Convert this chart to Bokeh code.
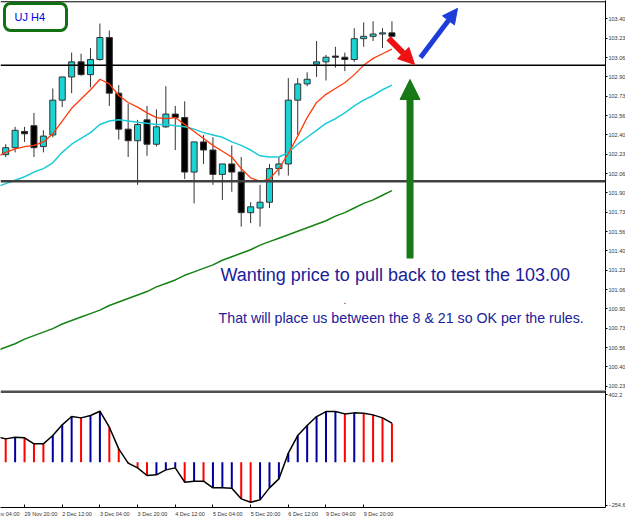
from bokeh.plotting import figure
from bokeh.layouts import column
from bokeh.models import (Range1d, FixedTicker, Span, Label, Arrow, NormalHead,
                          BoxAnnotation, ColumnDataSource)
from bokeh.embed import file_html
from bokeh.resources import INLINE

# ---------------- data ----------------
bar_index = list(range(42))
opens = [102.23, 102.29, 102.43, 102.48, 102.30, 102.40, 102.70, 102.90, 103.03, 102.92,
         103.05, 103.24, 102.76, 102.45, 102.35, 102.53, 102.32, 102.47, 102.58, 102.55,
         102.08, 102.34, 102.27, 102.06, 102.15, 102.08, 101.73, 101.77, 101.82, 102.11,
         102.15, 102.70, 102.84, 103.01, 103.03, 103.08, 103.07, 103.05, 103.23, 103.25,
         103.27, 103.28]
highs = [102.32, 102.47, 102.47, 102.59, 102.44, 102.80, 102.90, 103.11, 103.10, 103.15,
         103.36, 103.30, 102.83, 102.67, 102.53, 102.65, 102.62, 102.82, 102.65, 102.69,
         102.34, 102.40, 102.38, 102.15, 102.31, 102.21, 101.82, 101.97, 102.15, 102.21,
         102.89, 102.89, 102.94, 103.21, 103.09, 103.16, 103.11, 103.32, 103.37, 103.38,
         103.32, 103.38]
lows = [102.21, 102.25, 102.34, 102.21, 102.25, 102.38, 102.64, 102.76, 102.91, 102.81,
        103.04, 102.65, 102.36, 102.21, 101.97, 102.22, 102.30, 102.46, 102.27, 102.02,
        101.81, 102.15, 101.97, 101.84, 101.91, 101.61, 101.64, 101.61, 101.77, 102.05,
        102.05, 102.40, 102.82, 102.90, 102.87, 102.98, 102.95, 103.03, 103.16, 103.21,
        103.15, 103.24]
closes = [102.29, 102.44, 102.41, 102.29, 102.39, 102.70, 102.90, 103.03, 102.92, 103.05,
          103.24, 102.76, 102.45, 102.35, 102.49, 102.32, 102.47, 102.58, 102.55, 102.08,
          102.34, 102.27, 102.06, 102.15, 102.08, 101.73, 101.78, 101.82, 102.11, 102.15,
          102.70, 102.84, 102.88, 103.03, 103.07, 103.07, 103.05, 103.23, 103.25, 103.27,
          103.28, 103.25]

ma_index = list(range(-1, 42))
ema_fast = [102.21, 102.25, 102.28, 102.30, 102.31, 102.34, 102.41, 102.52, 102.63, 102.71, 102.79,
            102.88, 102.84, 102.74, 102.68, 102.64, 102.59, 102.55, 102.54, 102.55, 102.49,
            102.43, 102.37, 102.31, 102.26, 102.21, 102.11, 102.03, 102.00, 102.02, 102.11,
            102.24, 102.39, 102.55, 102.68, 102.75, 102.80, 102.85, 102.92, 103.00, 103.06,
            103.10, 103.14]
ema_slow = [101.95, 101.98, 102.01, 102.04, 102.08, 102.11, 102.16, 102.25, 102.32, 102.37, 102.42,
            102.49, 102.52, 102.53, 102.52, 102.51, 102.50, 102.49, 102.49, 102.48, 102.47,
            102.45, 102.42, 102.40, 102.38, 102.34, 102.31, 102.27, 102.22, 102.21, 102.21,
            102.25, 102.32, 102.38, 102.44, 102.50, 102.54, 102.59, 102.65, 102.70, 102.74,
            102.79, 102.83]
sma_long = [100.54, 100.57, 100.60, 100.64, 100.67, 100.70, 100.73, 100.77, 100.80, 100.83, 100.86,
            100.89, 100.93, 100.96, 100.99, 101.02, 101.05, 101.09, 101.12, 101.15, 101.19,
            101.22, 101.25, 101.28, 101.32, 101.35, 101.38, 101.41, 101.45, 101.48, 101.51,
            101.54, 101.57, 101.60, 101.63, 101.66, 101.70, 101.73, 101.77, 101.81, 101.84,
            101.88, 101.92]

osc_values = [152.5, 138.7, 148.6, 144.6, 109.0, 109.0, 158.5, 221.9, 271.4, 263.5, 277.3,
              303.1, 208.0, 79.2, -5.9, -33.7, -79.2, -75.3, -45.6, -33.7, -118.9,
              -112.9, -112.9, -152.5, -152.5, -154.5, -217.9, -237.7, -223.9, -152.5, -99.1,
              53.5, 158.5, 217.9, 271.4, 301.1, 301.1, 287.2, 293.2, 291.2, 281.3,
              263.5, 231.8]
osc_dir = ["u", "d", "u", "d", "d", "d", "u", "u", "u", "d", "u",
           "u", "d", "d", "d", "d", "d", "u", "u", "u", "d",
           "u", "d", "u", "u", "u", "d", "d", "u", "u", "u",
           "u", "u", "u", "u", "u", "u", "d", "u", "d", "d",
           "d", "d"]

price_ticks = [103.40, 103.233, 103.067, 102.90, 102.733, 102.567, 102.40, 102.233, 102.067,
               101.90, 101.733, 101.567, 101.40, 101.233, 101.067, 100.90, 100.733, 100.567,
               100.40, 100.233]
price_labels = ["103.40", "103.23", "103.06", "102.90", "102.73", "102.56", "102.40", "102.23",
                "102.06", "101.90", "101.73", "101.56", "101.40", "101.23", "101.06", "100.90",
                "100.73", "100.56", "100.40", "100.23"]
time_ticks = [-2, 2, 6, 10, 14, 18, 22, 26, 30, 34, 38]
time_labels = ["29 Nov 04:00", "29 Nov 20:00", "2 Dec 12:00", "3 Dec 04:00", "3 Dec 20:00",
               "4 Dec 12:00", "5 Dec 04:00", "5 Dec 20:00", "6 Dec 12:00", "9 Dec 04:00",
               "9 Dec 20:00"]
osc_ticks = [402.2, -254.6]
level_lines = [103.00, 102.00]

# ---------------- styles ----------------
BULL = "#1cd3d3"
BEAR = "#000000"
FONT = "Liberation Sans"
AX_FS = "5.5px"


def clean(p):
    p.xgrid.visible = False
    p.ygrid.visible = False
    p.outline_line_color = None
    p.background_fill_color = "white"
    p.border_fill_color = "white"


# ---------------- main price panel ----------------
p1 = figure(frame_width=605, frame_height=390,
            x_range=Range1d(-0.552, 63.67), y_range=Range1d(100.197, 103.559),
            x_axis_location=None, y_axis_location="right",
            output_backend="svg", toolbar_location=None,
            min_border_left=0, min_border_top=0, min_border_bottom=0, min_border_right=20)
clean(p1)

ya = p1.yaxis[0]
ya.ticker = FixedTicker(ticks=price_ticks)
ya.major_label_overrides = {t: s for t, s in zip(price_ticks, price_labels)}
ya.major_label_text_font_size = AX_FS
ya.major_label_text_font = FONT
ya.major_label_text_color = "#333333"
ya.major_tick_out = 2
ya.major_tick_in = 0
ya.minor_tick_line_color = None
ya.major_label_standoff = 1
ya.axis_line_color = "black"

# horizontal levels and top border
p1.add_layout(Span(location=level_lines[0], dimension="width", line_color="black", line_width=1.5))
p1.add_layout(Span(location=level_lines[1], dimension="width", line_color="#404040", line_width=2.5))
p1.add_layout(Span(location=103.548, dimension="width", line_color="black", line_width=1))

src = ColumnDataSource(dict(
    x=bar_index, o=opens, h=highs, l=lows, c=closes,
    top=[max(a, b) for a, b in zip(opens, closes)],
    bottom=[min(a, b) for a, b in zip(opens, closes)],
    fill=[BULL if c >= o else BEAR for o, c in zip(opens, closes)],
))
p1.segment(x0="x", y0="l", x1="x", y1="h", line_color="#333333", line_width=1, source=src)
p1.vbar(x="x", width=0.64, top="top", bottom="bottom", fill_color="fill",
        line_color="#333333", line_width=1, source=src)

p1.line(ma_index, sma_long, line_color="#168216", line_width=1.5)
p1.line(ma_index, ema_slow, line_color="#1ccbd8", line_width=1.5)
p1.line(ma_index, ema_fast, line_color="#ff3a0a", line_width=1.3)

# axis price boxes
for val, txt in [(103.00, "103.00"), (102.00, "102.00"), (closes[-1], "%.2f" % closes[-1])]:
    p1.add_layout(Label(x=63.78, y=val, text=txt, text_font=FONT, text_font_size=AX_FS,
                        text_color="white", background_fill_color="black",
                        text_baseline="middle", text_align="left"))

# "UJ H4" badge
p1.add_layout(BoxAnnotation(left=-0.127, right=6.455, top=103.534, bottom=103.301,
                            fill_color="white", fill_alpha=1.0, line_color="#127012",
                            line_alpha=1.0, line_width=3, border_radius=6))
p1.add_layout(Label(x=0.93, y=103.42, text="UJ H4", text_font=FONT, text_font_size="11px",
                    text_color="#0000dd", text_baseline="middle", text_align="left"))

# arrows
p1.add_layout(Arrow(end=NormalHead(size=16, fill_color="#ee1111", line_color="#ee1111"),
                    x_start=40.64, y_start=103.232, x_end=43.40, y_end=103.008,
                    line_color="#ee1111", line_width=6))
p1.add_layout(Arrow(end=NormalHead(size=15, fill_color="#1e3cd8", line_color="#1e3cd8"),
                    x_start=44.03, y_start=103.068, x_end=47.96, y_end=103.491,
                    line_color="#1e3cd8", line_width=5))
p1.add_layout(Arrow(end=NormalHead(size=20, fill_color="#167a16", line_color="#167a16"),
                    x_start=42.92, y_start=101.335, x_end=42.92, y_end=102.878,
                    line_color="#167a16", line_width=7))

# annotation texts
TXT = "#20209a"
p1.add_layout(Label(x=22.8, y=101.189, text="Wanting price to pull back to test the 103.00",
                    text_font=FONT, text_font_size="18px", text_color=TXT,
                    text_baseline="middle", text_align="left"))
p1.add_layout(Label(x=35.86, y=100.973, text=".", text_font=FONT, text_font_size="10px",
                    text_color=TXT, text_baseline="middle", text_align="left"))
p1.add_layout(Label(x=22.6, y=100.818, text="That will place us between the 8 & 21 so OK per the rules.",
                    text_font=FONT, text_font_size="14.2px", text_color=TXT,
                    text_baseline="middle", text_align="left"))

# ---------------- oscillator panel ----------------
p2 = figure(frame_width=605, frame_height=117,
            x_range=p1.x_range, y_range=Range1d(-269.3, 426.2),
            y_axis_location="right", output_backend="svg", toolbar_location=None,
            min_border_left=0, min_border_top=0, min_border_right=20, min_border_bottom=0)
clean(p2)

y2 = p2.yaxis[0]
y2.ticker = FixedTicker(ticks=osc_ticks)
y2.major_label_text_font_size = AX_FS
y2.major_label_text_font = FONT
y2.major_label_text_color = "#333333"
y2.major_tick_out = 2
y2.major_tick_in = 0
y2.minor_tick_line_color = None
y2.major_label_standoff = 1
y2.axis_line_color = "black"

# time axis: tick marks only; texts go in the strip below, left-aligned at each tick (MT4 style)
x2 = p2.xaxis[0]
x2.ticker = FixedTicker(ticks=time_ticks)
x2.major_label_text_color = None
x2.major_tick_in = 3
x2.major_tick_out = 1
x2.minor_tick_line_color = None
x2.major_label_standoff = 0
x2.axis_line_color = "black"

p2.add_layout(Span(location=420.2, dimension="width", line_color="#505050", line_width=3))

osc_src = ColumnDataSource(dict(
    x=ma_index, v=osc_values, z=[0] * len(osc_values),
    col=["#0000a0" if d == "u" else "#ff0000" for d in osc_dir],
))
p2.segment(x0="x", y0="z", x1="x", y1="v", line_color="col", line_width=2, source=osc_src)
p2.line("x", "v", line_color="black", line_width=1.5, source=osc_src)

for val, txt, col in [(57.7, "15.1", "#333333"), (10.0, "0.000", "#0000ff"), (-25.6, "-23.", "#806000")]:
    p2.add_layout(Label(x=63.9, y=val, text=txt, text_font=FONT, text_font_size="5px",
                        text_color=col, text_baseline="middle", text_align="left"))

# ---------------- time label strip ----------------
p3 = figure(frame_width=605, frame_height=11, x_range=p1.x_range, y_range=Range1d(0, 1),
            x_axis_location=None, y_axis_location=None,
            output_backend="svg", toolbar_location=None,
            min_border_left=0, min_border_top=0, min_border_right=0, min_border_bottom=0)
clean(p3)
for t, lab in zip(time_ticks, time_labels):
    p3.add_layout(Label(x=t, y=0.62, text=lab, text_font=FONT, text_font_size=AX_FS,
                        text_color="#333333", text_align="left", text_baseline="middle"))

layout = column(p1, p2, p3)
open("out.html", "w").write(file_html(layout, INLINE))
